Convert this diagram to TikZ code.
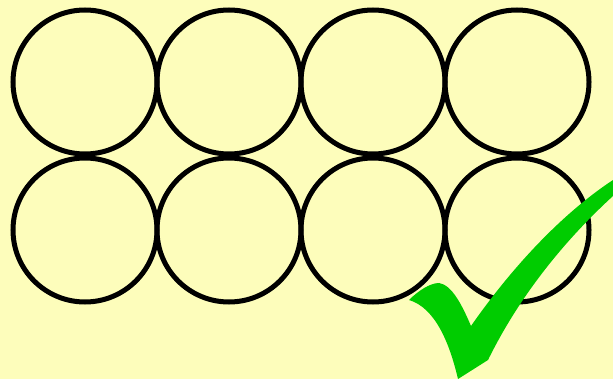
\documentclass[tikz,border=0pt]{standalone}
\usepackage{tikz}
\usetikzlibrary{positioning}
\definecolor{paper}{HTML}{FDFDBB}
\definecolor{tickgreen}{HTML}{00CC00}

\begin{document}
\begin{tikzpicture}[
  x=1pt, y=-1pt,
  ring/.style={circle, draw=black, line width=5pt, minimum size=144pt, inner sep=0pt, outer sep=0pt},
  tick/.style={fill=tickgreen, draw=none}
]
% background, fixes the page size
\fill[paper] (0,0) rectangle (613,379);
\useasboundingbox (0,0) rectangle (613,379);

% Row 1: four rings
\node[ring] (a1) at (85,82) {};
\node[ring, right=0pt of a1] (a2) {};
\node[ring, right=0pt of a2] (a3) {};
\node[ring, right=0pt of a3] (a4) {};

% Row 2: four rings, just under row 1
\node[ring] (b1) at (85,230) {};
\node[ring, right=0pt of b1] (b2) {};
\node[ring, right=0pt of b2] (b3) {};
\node[ring, right=0pt of b3] (b4) {};

% green tick over the last ring
\fill[tick] (409,300) .. controls (418,291) and (430,283) .. (439,283)
  .. controls (452,285) and (462,305) .. (471,326)
  .. controls (510,270) and (560,215) .. (613,180) -- (613,196)
  .. controls (565,240) and (520,295) .. (488,360) -- (458,379)
  .. controls (450,345) and (436,308) .. (409,300) -- cycle;

\end{tikzpicture}
\end{document}
